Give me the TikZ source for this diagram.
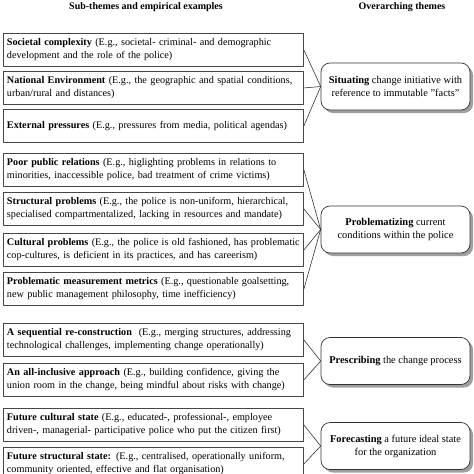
\documentclass[tikz,border=0pt]{standalone}
\usepackage{fontspec}
\setmainfont{Liberation Serif}
\usetikzlibrary{positioning,shadows}
\tikzset{
  every picture/.append style={line cap=round,line join=round},
  pol head/.style={font=\fontsize{10}{12}\selectfont\bfseries,anchor=base},
  pol sub/.style={draw=gray!55!black,line width=0.9pt,fill=white,anchor=north west,
    text width=293pt,inner xsep=3.5pt,minimum height=33pt,align=left,
    font=\fontsize{10.2}{13}\selectfont},
  pol theme/.style={draw=gray!40!black,line width=0.7pt,rounded corners=9pt,fill=white,
    minimum width=149pt,minimum height=47pt,align=center,
    font=\fontsize{10.4}{13}\selectfont,
    drop shadow={shadow xshift=3pt,shadow yshift=-3pt,fill=gray!75,opacity=1}},
  pol link/.style={gray!40!black,line width=0.6pt}
}

\begin{document}
\begin{tikzpicture}[x=1pt,y=-1pt]
\useasboundingbox (0,0) rectangle (474,474);
\node[pol head] (hsub) at (146,9) {Sub-themes and empirical examples};
\node[pol head] (htheme) at (402,9) {Overarching themes};

% sub-themes
\node[pol sub] (s1) at (3,33) {\textbf{Societal complexity} (E.g., societal- criminal- and demographic\\ development and the role of the police)};
\node[pol sub] (s2) at (3,71) {\textbf{National Environment} (E.g., the geographic and spatial conditions,\\ urban/rural and distances)};
\node[pol sub] (s3) at (3,109) {\textbf{External pressures} (E.g., pressures from media, political agendas)};
\node[pol sub] (s4) at (3,153) {\textbf{Poor public relations} (E.g., higlighting problems in relations to\\ minorities, inaccessible police, bad treatment of crime victims)};
\node[pol sub] (s5) at (3,192) {\textbf{Structural problems} (E.g., the police is non-uniform, hierarchical,\\ specialised compartmentalized, lacking in resources and mandate)};
\node[pol sub] (s6) at (3,233) {\textbf{Cultural problems} (E.g., the police is old fashioned, has problematic\\ cop-cultures, is deficient in its practices, and has careerism)};
\node[pol sub] (s7) at (3,272) {\textbf{Problematic measurement metrics} (E.g., questionable goalsetting,\\ new public management philosophy, time inefficiency)};
\node[pol sub] (s8) at (3,323) {\textbf{A sequential re-construction}\ \ (E.g., merging structures, addressing\\ technological challenges, implementing change operationally)};
\node[pol sub] (s9) at (3,363) {\textbf{An all-inclusive approach} (E.g., building confidence, giving the\\ union room in the change, being mindful about risks with change)};
\node[pol sub] (s10) at (3,408) {\textbf{Future cultural state} (E.g., educated-, professional-, employee\\ driven-, managerial- participative police who put the citizen first)};
\node[pol sub] (s11) at (3,447) {\textbf{Future structural state:} (E.g., centralised, operationally uniform,\\ community oriented, effective and flat organisation)};

% overarching themes
\node[pol theme] (t1) at (395.5,86.5) {\textbf{Situating} change initiative with\\ reference to immutable "facts"};
\node[pol theme] (t2) at (395.5,229.5) {\textbf{Problematizing} current\\ conditions within the police};
\node[pol theme] (t3) at (395.5,361) {\textbf{Prescribing} the change process};
\node[pol theme] (t4) at (395.5,446) {\textbf{Forecasting} a future ideal state\\ for the organization};

\draw[pol link] (s1.east) -- (t1.west);
\draw[pol link] (s2.east) -- (t1.west);
\draw[pol link] (s3.east) -- (t1.west);
\draw[pol link] (s4.east) -- (t2.west);
\draw[pol link] (s5.east) -- (t2.west);
\draw[pol link] (s6.east) -- (t2.west);
\draw[pol link] (s7.east) -- (t2.west);
\draw[pol link] (s8.east) -- (t3.west);
\draw[pol link] (s9.east) -- (t3.west);
\draw[pol link] (s10.east) -- (t4.west);
\draw[pol link] (s11.east) -- (t4.west);
\end{tikzpicture}
\end{document}
